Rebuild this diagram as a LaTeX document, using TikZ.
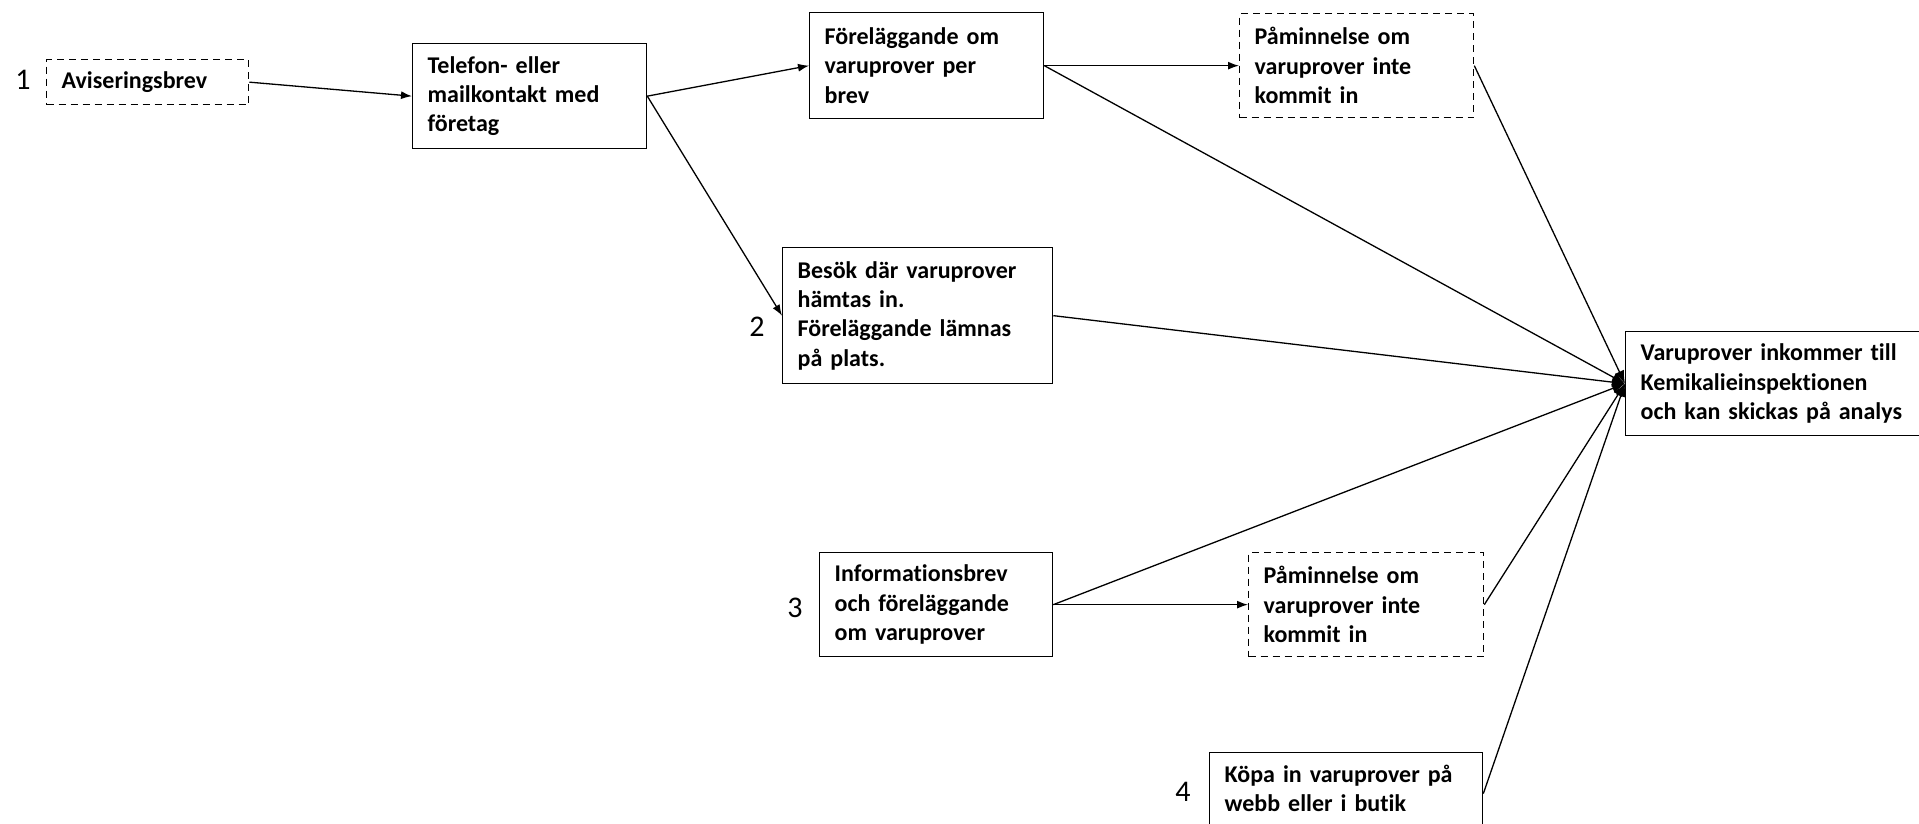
\documentclass[tikz,border=0pt]{standalone}
\usepackage{fontspec}
\setmainfont{Carlito}[Ligatures=NoCommon, Contextuals=NoAlternate]
\usetikzlibrary{arrows.meta}
\begin{document}
\begin{tikzpicture}[x=1pt,y=-1pt,
  box/.style={draw=black, line width=1.3pt, anchor=north west, align=left,
    inner xsep=15pt, inner ysep=0pt, font=\fontsize{24}{29.3}\selectfont\bfseries},
  dbox/.style={box, dash pattern=on 7pt off 5pt},
  conn/.style={line width=1.3pt, -{Latex[length=11pt,width=8pt]}},
  hub/.style={line width=1.3pt, -{Latex[length=13pt,width=10pt]}},
  num/.style={font=\fontsize{30}{36}\selectfont, inner sep=0pt}]
\useasboundingbox (0,0) rectangle (1919,824);
\clip (0,0) rectangle (1919,824);
% numbers
\node[num] (n1) at (23,80) {1};
\node[num] (n2) at (757,327) {2};
\node[num] (n3) at (795,608) {3};
\node[num] (n4) at (1183,792) {4};
% boxes
\node[dbox, text width=172pt, minimum height=45pt] (avis) at (46,59) {Aviseringsbrev};
\node[box, text width=204pt, minimum height=105pt] (tel) at (412,43) {Telefon- eller\\mailkontakt med\\företag};
\node[box, text width=204pt, minimum height=106pt] (for) at (809,12) {Föreläggande om\\varuprover per\\brev};
\node[dbox, text width=204pt, minimum height=104pt] (pat) at (1239,13) {Påminnelse om\\varuprover inte\\kommit in};
\node[box, text width=240pt, minimum height=136pt] (bes) at (782,247) {Besök där varuprover\\hämtas in.\\Föreläggande lämnas\\på plats.};
\node[box, text width=280pt, minimum height=104pt] (vp) at (1625,331) {Varuprover inkommer till\\Kemikalieinspektionen\\och kan skickas på analys};
\node[box, text width=203pt, minimum height=104pt] (inf) at (819,552) {Informationsbrev\\och föreläggande\\om varuprover};
\node[dbox, text width=205pt, minimum height=104pt] (pab) at (1248,552) {Påminnelse om\\varuprover inte\\kommit in};
\node[box, text width=243pt, minimum height=82pt] (kop) at (1209,752) {\parbox[c][82pt][t]{243pt}{\raggedright\vspace*{12pt}Köpa in varuprover på\\webb eller i butik}};
% connectors
\draw[conn] (avis.east) -- (tel.west);
\draw[conn] (tel.east) -- (for.west);
\draw[conn] (tel.east) -- (bes.west);
\draw[conn] (for.east) -- (pat.west);
\draw[conn] (inf.east) -- (pab.west);
\draw[hub] (for.east) -- (vp.west);
\draw[hub] (pat.east) -- (vp.west);
\draw[hub] (bes.east) -- (vp.west);
\draw[hub] (inf.east) -- (vp.west);
\draw[hub] (pab.east) -- (vp.west);
\draw[hub] (kop.east) -- (vp.west);
\end{tikzpicture}
\end{document}
